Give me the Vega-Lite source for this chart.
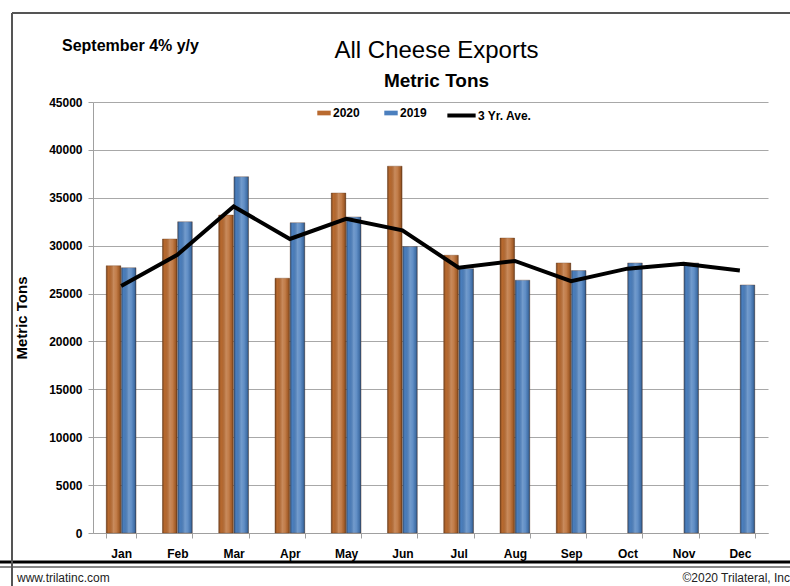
{
  "$schema": "https://vega.github.io/schema/vega-lite/v6.json",
  "width": 675,
  "height": 431,
  "autosize": {"type": "none"},
  "padding": {"left": 93, "top": 102, "right": 22, "bottom": 53},
  "background": "white",
  "config": {
    "view": {"stroke": null},
    "font": "Liberation Sans Narrow, Liberation Sans, sans-serif"
  },
  "title": {
    "text": "All Cheese Exports",
    "subtitle": "Metric Tons",
    "anchor": "middle",
    "dx": 6,
    "dy": 79,
    "fontSize": 24,
    "fontWeight": "normal",
    "font": "Liberation Sans Narrow, Liberation Sans, sans-serif",
    "subtitleFont": "Liberation Sans Narrow, Liberation Sans, sans-serif",
    "subtitleFontSize": 19,
    "subtitleFontWeight": "bold",
    "subtitleColor": "black",
    "subtitlePadding": 9,
    "color": "black",
    "offset": 0
  },
  "data": {
    "values": [
      {"month": "Jan", "series": "2020", "value": 27900},
      {"month": "Jan", "series": "2019", "value": 27700},
      {"month": "Jan", "series": "3 Yr. Ave.", "value": 25800},
      {"month": "Feb", "series": "2020", "value": 30700},
      {"month": "Feb", "series": "2019", "value": 32500},
      {"month": "Feb", "series": "3 Yr. Ave.", "value": 29050},
      {"month": "Mar", "series": "2020", "value": 33200},
      {"month": "Mar", "series": "2019", "value": 37200},
      {"month": "Mar", "series": "3 Yr. Ave.", "value": 34100},
      {"month": "Apr", "series": "2020", "value": 26600},
      {"month": "Apr", "series": "2019", "value": 32400},
      {"month": "Apr", "series": "3 Yr. Ave.", "value": 30700},
      {"month": "May", "series": "2020", "value": 35500},
      {"month": "May", "series": "2019", "value": 33000},
      {"month": "May", "series": "3 Yr. Ave.", "value": 32800},
      {"month": "Jun", "series": "2020", "value": 38300},
      {"month": "Jun", "series": "2019", "value": 29900},
      {"month": "Jun", "series": "3 Yr. Ave.", "value": 31600},
      {"month": "Jul", "series": "2020", "value": 29000},
      {"month": "Jul", "series": "2019", "value": 27600},
      {"month": "Jul", "series": "3 Yr. Ave.", "value": 27700},
      {"month": "Aug", "series": "2020", "value": 30800},
      {"month": "Aug", "series": "2019", "value": 26400},
      {"month": "Aug", "series": "3 Yr. Ave.", "value": 28400},
      {"month": "Sep", "series": "2020", "value": 28200},
      {"month": "Sep", "series": "2019", "value": 27400},
      {"month": "Sep", "series": "3 Yr. Ave.", "value": 26300},
      {"month": "Oct", "series": "2019", "value": 28200},
      {"month": "Oct", "series": "3 Yr. Ave.", "value": 27600},
      {"month": "Nov", "series": "2019", "value": 28200},
      {"month": "Nov", "series": "3 Yr. Ave.", "value": 28100},
      {"month": "Dec", "series": "2019", "value": 25900},
      {"month": "Dec", "series": "3 Yr. Ave.", "value": 27400}
    ]
  },
  "encoding": {
    "x": {
      "field": "month",
      "type": "nominal",
      "sort": ["Jan","Feb","Mar","Apr","May","Jun","Jul","Aug","Sep","Oct","Nov","Dec"],
      "scale": {"paddingInner": 0.47, "paddingOuter": 0.235},
      "axis": {
        "title": null,
        "labelAngle": 0,
        "labelFontWeight": "bold",
        "labelFontSize": 12,
        "labelColor": "black",
        "labelPadding": 10,
        "tickBand": "extent",
        "tickSize": 5,
        "tickColor": "#A0A0A0",
        "domainColor": "#A0A0A0",
        "grid": false
      }
    }
  },
  "layer": [
    {
      "transform": [{"filter": "datum.series !== '3 Yr. Ave.'"}],
      "mark": {"type": "bar", "stroke": "#6b3a1a", "strokeOpacity": 0.35, "strokeWidth": 1},
      "encoding": {
        "xOffset": {"field": "series", "type": "nominal", "sort": ["2020", "2019"], "scale": {"paddingInner": 0.04}},
        "y": {
          "field": "value",
          "type": "quantitative",
          "scale": {"domain": [0, 45000]},
          "axis": {
            "title": "Metric Tons",
            "titleFontSize": 15,
            "titleFontWeight": "bold",
            "titleColor": "black",
            "titlePadding": 19,
            "values": [0,5000,10000,15000,20000,25000,30000,35000,40000,45000],
            "format": "d",
            "labelFontWeight": "bold",
            "labelFontSize": 12,
            "labelColor": "black",
            "labelPadding": 6,
            "tickSize": 5,
            "tickColor": "#A0A0A0",
            "domainColor": "#A0A0A0",
            "gridColor": "#A8A8A8",
            "gridWidth": 1.2
          }
        },
        "fill": {
          "field": "series",
          "type": "nominal",
          "scale": {"domain": ["2020", "2019"], "range": ["#B96A2F", "#4B7FBE"]},
          "legend": {
            "title": null,
            "orient": "none",
            "legendX": 224,
            "legendY": 4,
            "direction": "horizontal",
            "symbolType": "M-1,-0.35H1V0.35H-1Z",
            "symbolSize": 180,
            "symbolStrokeWidth": 0,
            "labelFontSize": 12,
            "labelFontWeight": "bold",
            "labelColor": "black",
            "labelOffset": 2,
            "columnPadding": 24
          }
        }
      }
    },
    {
      "transform": [{"filter": "datum.series !== '3 Yr. Ave.'"}],
      "mark": {
        "type": "bar",
        "fill": {
          "gradient": "linear",
          "x1": 0, "y1": 0, "x2": 1, "y2": 0,
          "stops": [
            {"offset": 0, "color": "rgba(0,0,0,0.35)"},
            {"offset": 0.15, "color": "rgba(0,0,0,0.0)"},
            {"offset": 0.5, "color": "rgba(255,255,255,0.22)"},
            {"offset": 0.7, "color": "rgba(255,255,255,0.12)"},
            {"offset": 0.88, "color": "rgba(0,0,0,0.1)"},
            {"offset": 1, "color": "rgba(0,0,0,0.4)"}
          ]
        }
      },
      "encoding": {
        "xOffset": {"field": "series", "type": "nominal", "sort": ["2020", "2019"], "scale": {"paddingInner": 0.04}},
        "y": {"field": "value", "type": "quantitative"}
      }
    },
    {
      "transform": [{"filter": "datum.series === '3 Yr. Ave.'"}],
      "mark": {"type": "line", "strokeWidth": 4, "strokeJoin": "miter"},
      "encoding": {
        "y": {"field": "value", "type": "quantitative"},
        "stroke": {
          "field": "series",
          "type": "nominal",
          "scale": {"domain": ["3 Yr. Ave."], "range": ["black"]},
          "legend": {
            "title": null,
            "orient": "none",
            "legendX": 352,
            "legendY": -3,
            "symbolType": "stroke",
            "symbolSize": 800,
            "symbolStrokeWidth": 4,
            "labelFontSize": 12,
            "labelFontWeight": "bold",
            "labelColor": "black",
            "labelOffset": 0
          }
        }
      }
    },
    {
      "data": {"values": [{"t": "September  4% y/y"}]},
      "mark": {"type": "text", "align": "left", "baseline": "middle", "fontSize": 16, "fontWeight": "bold", "color": "black"},
      "encoding": {"text": {"field": "t"}, "x": {"value": -31}, "y": {"value": -56}}
    },
    {
      "data": {"values": [{"t": "www.trilatinc.com"}]},
      "mark": {"type": "text", "align": "left", "baseline": "middle", "fontSize": 12, "color": "#222"},
      "encoding": {"text": {"field": "t"}, "x": {"value": -76}, "y": {"value": 476}}
    },
    {
      "data": {"values": [{"t": "©2020 Trilateral, Inc"}]},
      "mark": {"type": "text", "align": "right", "baseline": "middle", "fontSize": 12, "color": "#222"},
      "encoding": {"text": {"field": "t"}, "x": {"value": 697}, "y": {"value": 476}}
    },
    {
      "data": {"values": [{"k": "bottom"}]},
      "mark": {"type": "rule", "color": "black", "strokeWidth": 3},
      "encoding": {"x": {"value": -93}, "x2": {"value": 697}, "y": {"value": 460}}
    },
    {
      "data": {"values": [{"k": "bottom2"}]},
      "mark": {"type": "rule", "color": "#888888", "strokeWidth": 2},
      "encoding": {"x": {"value": -93}, "x2": {"value": 697}, "y": {"value": 465}}
    },
    {
      "data": {"values": [{"k": "top"}]},
      "mark": {"type": "rule", "color": "#555555", "strokeWidth": 2},
      "encoding": {"x": {"value": -81}, "x2": {"value": 697}, "y": {"value": -89}}
    },
    {
      "data": {"values": [{"k": "left"}]},
      "mark": {"type": "rule", "color": "#555555", "strokeWidth": 2},
      "encoding": {"x": {"value": -81}, "y": {"value": -89}, "y2": {"value": 484}}
    }
  ]
}
